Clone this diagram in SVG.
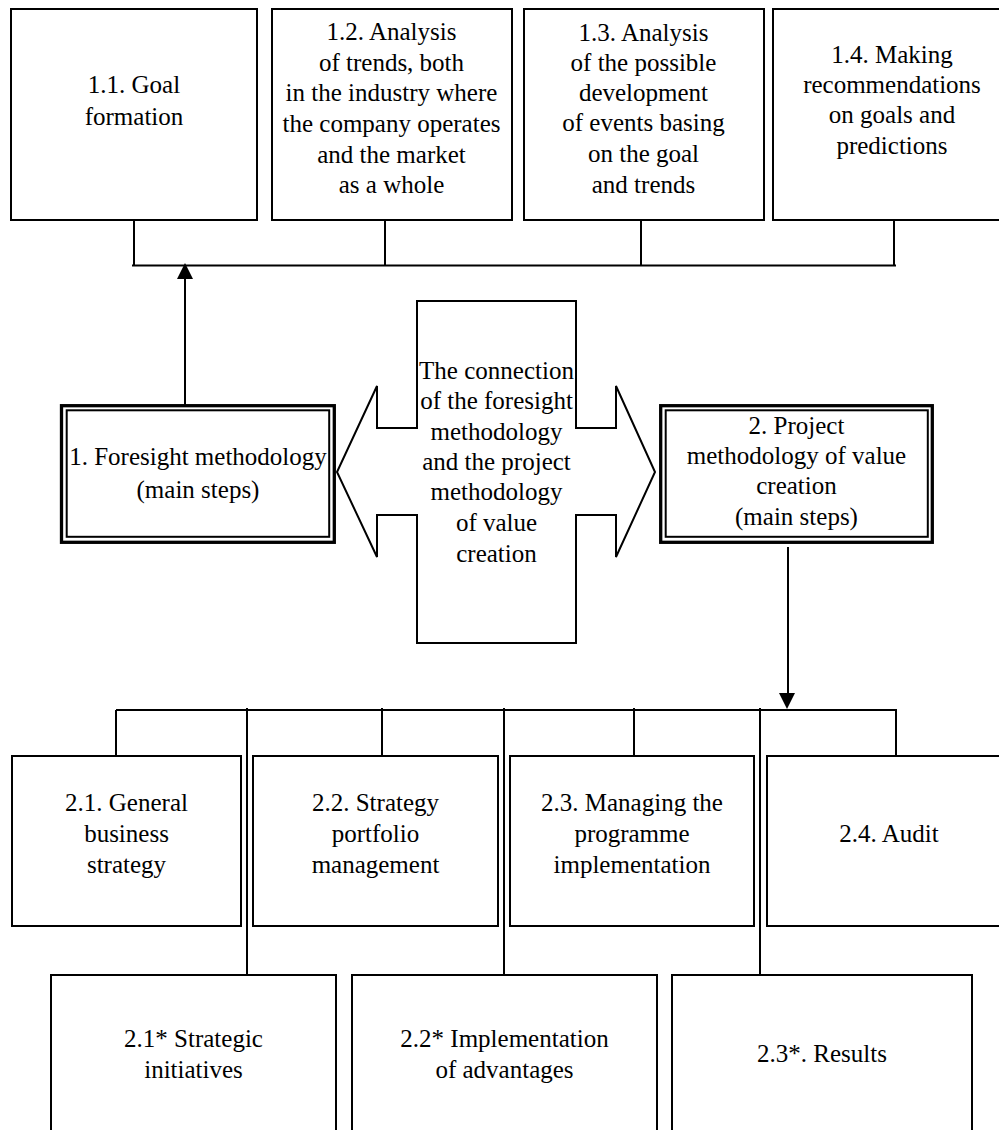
<svg xmlns="http://www.w3.org/2000/svg" width="999" height="1130" viewBox="0 0 999 1130">
<style>
.box{fill:#fff;stroke:#000;stroke-width:2}
.outer{fill:#fff;stroke:#000;stroke-width:3.3}
.inner{fill:none;stroke:#000;stroke-width:2}
.ln{stroke:#000;stroke-width:2;fill:none}
text{font-family:"Liberation Serif","Times New Roman",serif;font-size:25px;fill:#000;text-anchor:middle}
</style>
<rect width="999" height="1130" fill="#fff"/>
<g id="connectors">
<path class="ln" d="M132 265.5H896M134 221V265.5M385 219V265.5M641 221V265.5M894 221V265.5"/>
<path class="ln" d="M185 406V276"/>
<polygon points="185,263 177,279 193,279" fill="#000"/>
<path class="ln" d="M788 547V695"/>
<polygon points="787,709 779,693 795,693" fill="#000"/>
<path class="ln" d="M116 710H897M116 710V756M247 708V975M382 708V756M504 708V975M634 708V756M760 708V975M896 710V756"/>
</g>
<g id="n11"><rect class="box" x="11" y="9" width="246" height="211"/><text x="134" y="93">1.1. Goal</text><text x="134" y="125">formation</text></g>
<g id="n12"><rect class="box" x="272" y="9" width="240" height="211"/>
<text x="391.5" y="40">1.2. Analysis</text><text x="391.5" y="71">of trends, both</text><text x="391.5" y="101">in the industry where</text><text x="391.5" y="132">the company operates</text><text x="391.5" y="163">and the market</text><text x="391.5" y="193">as a whole</text></g>
<g id="n13"><rect class="box" x="524" y="9" width="240" height="211"/>
<text x="643.5" y="41">1.3. Analysis</text><text x="643.5" y="71">of the possible</text><text x="643.5" y="101">development</text><text x="643.5" y="131">of events basing</text><text x="643.5" y="162">on the goal</text><text x="643.5" y="193">and trends</text></g>
<g id="n14"><rect class="box" x="773" y="9" width="240" height="211"/>
<text x="892" y="63">1.4. Making</text><text x="892" y="93">recommendations</text><text x="892" y="123">on goals and</text><text x="892" y="154">predictions</text></g>
<g id="n1"><rect class="outer" x="61.5" y="405.7" width="272.8" height="136.6"/><rect class="inner" x="66.7" y="410.3" width="262.5" height="126.5"/>
<text x="198" y="465">1. Foresight methodology</text><text x="198" y="498">(main steps)</text></g>
<g id="center"><polygon class="box" points="417,301 576,301 576,428 616,428 616,386 655,472 616,557 616,515 576,515 576,643 417,643 417,515 377,515 377,557 337,472 377,386 377,428 417,428"/>
<text x="496.5" y="379">The connection</text><text x="496.5" y="409">of the foresight</text><text x="496.5" y="440">methodology</text><text x="496.5" y="470">and the project</text><text x="496.5" y="500">methodology</text><text x="496.5" y="531">of value</text><text x="496.5" y="562">creation</text></g>
<g id="n2"><rect class="outer" x="660.7" y="405.7" width="271.6" height="136.6"/><rect class="inner" x="665.7" y="410.3" width="262.1" height="126.5"/>
<text x="796.5" y="434">2. Project</text><text x="796.5" y="464">methodology of value</text><text x="796.5" y="494">creation</text><text x="796.5" y="525">(main steps)</text></g>
<g id="n21"><rect class="box" x="12" y="756" width="229" height="170"/><text x="126.5" y="811">2.1. General</text><text x="126.5" y="842">business</text><text x="126.5" y="873">strategy</text></g>
<g id="n22"><rect class="box" x="253" y="756" width="245" height="170"/><text x="375.5" y="811">2.2. Strategy</text><text x="375.5" y="842">portfolio</text><text x="375.5" y="873">management</text></g>
<g id="n23"><rect class="box" x="510" y="756" width="244" height="170"/><text x="632" y="811">2.3. Managing the</text><text x="632" y="842">programme</text><text x="632" y="873">implementation</text></g>
<g id="n24"><rect class="box" x="767" y="756" width="244" height="170"/><text x="889" y="842">2.4. Audit</text></g>
<g id="n21s"><rect class="box" x="51" y="975" width="285" height="180"/><text x="193.5" y="1047">2.1* Strategic</text><text x="193.5" y="1078">initiatives</text></g>
<g id="n22s"><rect class="box" x="352" y="975" width="305" height="180"/><text x="504.5" y="1047">2.2* Implementation</text><text x="504.5" y="1078">of advantages</text></g>
<g id="n23s"><rect class="box" x="672" y="975" width="300" height="180"/><text x="822" y="1062">2.3*. Results</text></g>
</svg>
